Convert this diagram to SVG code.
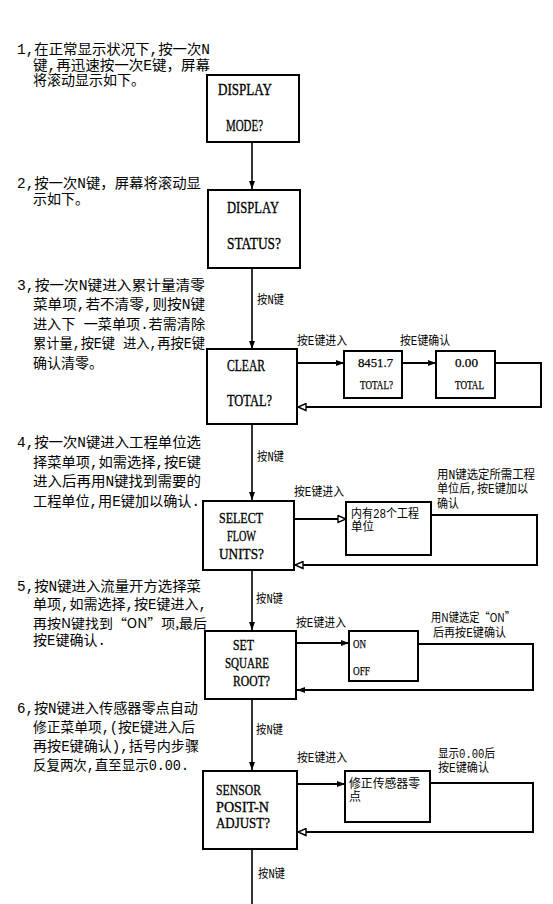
<svg xmlns="http://www.w3.org/2000/svg" width="553" height="904" viewBox="0 0 553 904">
<style>
.bg{fill:#fff}
.box{fill:#fff;stroke:#000;stroke-width:2}
.ln{fill:none;stroke:#000;stroke-width:1.6}
.rt{fill:none;stroke:#000;stroke-width:2}
.t{font-family:"Liberation Mono","Noto Sans CJK SC",monospace;font-size:14px;fill:#000}
.tc{font-family:"Noto Sans CJK SC",sans-serif;font-size:13px;fill:#000}
.lb{font-family:"Liberation Mono","Noto Sans CJK SC",monospace;font-size:12px;fill:#000}
.lc{font-family:"Noto Sans CJK SC",sans-serif;font-size:12px;fill:#000}
.bt{font-family:"Liberation Serif",serif;font-size:17px;fill:#000;stroke:#000;stroke-width:0.35}
.bm{font-family:"Liberation Serif",serif;font-size:15.5px;fill:#000;stroke:#000;stroke-width:0.35}
.st{font-family:"Liberation Serif",serif;font-size:12.5px;fill:#000;stroke:#000;stroke-width:0.25}
</style>
<defs>
<marker id="af" markerUnits="userSpaceOnUse" markerWidth="9" markerHeight="7" refX="8" refY="3.5" orient="auto"><path d="M0,0.5 L8,3.5 L0,6.5 z" fill="#000"/></marker>
<marker id="ah" markerUnits="userSpaceOnUse" markerWidth="11" markerHeight="9" refX="9" refY="4.5" orient="auto"><path d="M1,1 L9,4.5 L1,8 z" fill="#fff" stroke="#000" stroke-width="1.4"/></marker>
</defs>
<rect class="bg" x="0" y="0" width="553" height="904"/>

<g id="notes">
<text class="t" x="17" y="54" textLength="193" lengthAdjust="spacingAndGlyphs">1,在正常显示状况下,按一次N</text>
<text class="t" x="33" y="69.5" textLength="177" lengthAdjust="spacingAndGlyphs">键,再迅速按一次E键，屏幕</text>
<text class="t" x="33" y="85">将滚动显示如下。</text>
<text class="t" x="17" y="187.5" textLength="184" lengthAdjust="spacingAndGlyphs">2,按一次N键，屏幕将滚动显</text>
<text class="t" x="33" y="203.5">示如下。</text>
<text class="t" x="17" y="289.5" textLength="188" lengthAdjust="spacingAndGlyphs">3,按一次N键进入累计量清零</text>
<text class="t" x="33" y="309" textLength="172" lengthAdjust="spacingAndGlyphs">菜单项,若不清零,则按N键</text>
<text class="t" x="33" y="328.5" textLength="172" lengthAdjust="spacingAndGlyphs">进入下 一菜单项.若需清除</text>
<text class="t" x="33" y="348" textLength="172" lengthAdjust="spacingAndGlyphs">累计量,按E键 进入,再按E键</text>
<text class="t" x="33" y="367.5">确认清零。</text>
<text class="t" x="17" y="447" textLength="184" lengthAdjust="spacingAndGlyphs">4,按一次N键进入工程单位选</text>
<text class="t" x="33" y="467" textLength="168" lengthAdjust="spacingAndGlyphs">择菜单项,如需选择,按E键</text>
<text class="t" x="33" y="486" textLength="168" lengthAdjust="spacingAndGlyphs">进入后再用N键找到需要的</text>
<text class="t" x="33" y="506" textLength="167" lengthAdjust="spacingAndGlyphs">工程单位,用E键加以确认.</text>
<text class="t" x="17" y="591" textLength="184" lengthAdjust="spacingAndGlyphs">5,按N键进入流量开方选择菜</text>
<text class="t" x="33" y="609" textLength="174" lengthAdjust="spacingAndGlyphs">单项,如需选择,按E键进入,</text>
<text class="tc" x="33" y="628" textLength="174" lengthAdjust="spacingAndGlyphs">再按N键找到“ON”项,最后</text>
<text class="t" x="33" y="645" >按E键确认.</text>
<text class="t" x="17" y="712.5" textLength="181" lengthAdjust="spacingAndGlyphs">6,按N键进入传感器零点自动</text>
<text class="t" x="33" y="731.5" textLength="162" lengthAdjust="spacingAndGlyphs">修正菜单项,(按E键进入后</text>
<text class="t" x="33" y="750.5" textLength="166" lengthAdjust="spacingAndGlyphs">再按E键确认),括号内步骤</text>
<text class="t" x="33" y="769.5" textLength="156" lengthAdjust="spacingAndGlyphs">反复两次,直至显示0.00.</text>
</g>

<g id="connectors">
<line class="ln" x1="252" y1="142" x2="252" y2="189" marker-end="url(#af)"/>
<line class="ln" x1="252" y1="268" x2="252" y2="349" marker-end="url(#af)"/>
<line class="ln" x1="252" y1="424" x2="252" y2="500" marker-end="url(#af)"/>
<line class="ln" x1="252" y1="570" x2="252" y2="630" marker-end="url(#af)"/>
<line class="ln" x1="252" y1="699" x2="252" y2="770" marker-end="url(#af)"/>
<line class="ln" x1="252" y1="849" x2="252" y2="904"/>
<line class="rt" x1="297" y1="363" x2="344" y2="363" marker-end="url(#af)"/>
<line class="rt" x1="402" y1="363" x2="436" y2="363" marker-end="url(#af)"/>
<polyline class="rt" points="495,363 541,363 541,407 298,407" marker-end="url(#ah)"/>
<line class="rt" x1="294" y1="519" x2="346" y2="519" marker-end="url(#ah)"/>
<polyline class="rt" points="431,515 537,515 537,565 295,565" marker-end="url(#ah)"/>
<line class="rt" x1="296" y1="643" x2="349" y2="643" marker-end="url(#af)"/>
<polyline class="rt" points="418,644 533,644 533,690 297,690" marker-end="url(#af)"/>
<line class="rt" x1="297" y1="784" x2="345" y2="784" marker-end="url(#af)"/>
<polyline class="rt" points="430,783 533,783 533,832 298,832" marker-end="url(#ah)"/>
<text class="lb" x="257" y="304" textLength="27" lengthAdjust="spacingAndGlyphs">按N键</text>
<text class="lb" x="257" y="461" textLength="27" lengthAdjust="spacingAndGlyphs">按N键</text>
<text class="lb" x="256" y="602.5" textLength="27" lengthAdjust="spacingAndGlyphs">按N键</text>
<text class="lb" x="256" y="733.5" textLength="27" lengthAdjust="spacingAndGlyphs">按N键</text>
<text class="lb" x="258" y="877.5" textLength="27" lengthAdjust="spacingAndGlyphs">按N键</text>
<text class="lb" x="297" y="344.5" textLength="50" lengthAdjust="spacingAndGlyphs">按E键进入</text>
<text class="lb" x="400" y="344.5" textLength="50" lengthAdjust="spacingAndGlyphs">按E键确认</text>
<text class="lb" x="294" y="495.5" textLength="50" lengthAdjust="spacingAndGlyphs">按E键进入</text>
<text class="lb" x="437" y="478.5" textLength="98" lengthAdjust="spacingAndGlyphs">用N键选定所需工程</text>
<text class="lb" x="437" y="493" textLength="91" lengthAdjust="spacingAndGlyphs">单位后,按E键加以</text>
<text class="lb" x="437" y="507.5" textLength="22" lengthAdjust="spacingAndGlyphs">确认</text>
<text class="lb" x="296" y="626.5" textLength="50" lengthAdjust="spacingAndGlyphs">按E键进入</text>
<text class="lc" x="431" y="621.5" textLength="84" lengthAdjust="spacingAndGlyphs">用N键选定“ON”</text>
<text class="lb" x="433" y="636.5" textLength="73" lengthAdjust="spacingAndGlyphs">后再按E键确认</text>
<text class="lb" x="297" y="761.5" textLength="50" lengthAdjust="spacingAndGlyphs">按E键进入</text>
<text class="lb" x="438" y="757.5" textLength="57" lengthAdjust="spacingAndGlyphs">显示0.00后</text>
<text class="lb" x="438" y="771.5" textLength="51" lengthAdjust="spacingAndGlyphs">按E键确认</text>
</g>

<g id="display-mode">
<rect class="box" x="207" y="75" width="92" height="67"/>
<text class="bt" x="218" y="95" textLength="54" lengthAdjust="spacingAndGlyphs">DISPLAY</text>
<text class="bt" x="226" y="131" textLength="37" lengthAdjust="spacingAndGlyphs">MODE?</text>
</g>
<g id="display-status">
<rect class="box" x="208" y="190" width="92" height="78"/>
<text class="bt" x="227" y="213" textLength="52" lengthAdjust="spacingAndGlyphs">DISPLAY</text>
<text class="bt" x="227" y="249" textLength="54" lengthAdjust="spacingAndGlyphs">STATUS?</text>
</g>
<g id="clear-total">
<rect class="box" x="207" y="349" width="90" height="75"/>
<text class="bt" x="227" y="371" textLength="38" lengthAdjust="spacingAndGlyphs">CLEAR</text>
<text class="bt" x="227" y="406" textLength="45" lengthAdjust="spacingAndGlyphs">TOTAL?</text>
</g>
<g id="total-value">
<rect class="box" x="344" y="351" width="58" height="47"/>
<text class="st" x="358" y="366.5" textLength="35" lengthAdjust="spacingAndGlyphs">8451.7</text>
<text class="st" x="360" y="388.5" textLength="33" lengthAdjust="spacingAndGlyphs">TOTAL?</text>
</g>
<g id="total-zero">
<rect class="box" x="436" y="351" width="59" height="47"/>
<text class="st" x="455" y="366.5" textLength="23" lengthAdjust="spacingAndGlyphs">0.00</text>
<text class="st" x="455" y="388.5" textLength="29" lengthAdjust="spacingAndGlyphs">TOTAL</text>
</g>
<g id="select-flow-units">
<rect class="box" x="203" y="501" width="91" height="69"/>
<text class="bm" x="219" y="523" textLength="44" lengthAdjust="spacingAndGlyphs">SELECT</text>
<text class="bm" x="227" y="541" textLength="29" lengthAdjust="spacingAndGlyphs">FLOW</text>
<text class="bm" x="219" y="559" textLength="45" lengthAdjust="spacingAndGlyphs">UNITS?</text>
</g>
<g id="units-list">
<rect class="box" x="346" y="502" width="85" height="53"/>
<text class="lb" x="351" y="517.5" textLength="68" lengthAdjust="spacingAndGlyphs">内有28个工程</text>
<text class="lb" x="351" y="530.5" textLength="23" lengthAdjust="spacingAndGlyphs">单位</text>
</g>
<g id="set-square-root">
<rect class="box" x="205" y="631" width="91" height="68"/>
<text class="bm" x="233" y="650" textLength="21" lengthAdjust="spacingAndGlyphs">SET</text>
<text class="bm" x="225" y="668" textLength="44" lengthAdjust="spacingAndGlyphs">SQUARE</text>
<text class="bm" x="233" y="686" textLength="37" lengthAdjust="spacingAndGlyphs">ROOT?</text>
</g>
<g id="on-off">
<rect class="box" x="349" y="631" width="69" height="50"/>
<text class="st" x="353" y="647.5" textLength="13" lengthAdjust="spacingAndGlyphs">ON</text>
<text class="st" x="353" y="674.5" textLength="17" lengthAdjust="spacingAndGlyphs">OFF</text>
</g>
<g id="sensor-adjust">
<rect class="box" x="203" y="771" width="94" height="78"/>
<text class="bm" x="216" y="795" textLength="45" lengthAdjust="spacingAndGlyphs">SENSOR</text>
<text class="bm" x="216" y="811.5" textLength="53" lengthAdjust="spacingAndGlyphs">POSIT-N</text>
<text class="bm" x="216" y="828" textLength="54" lengthAdjust="spacingAndGlyphs">ADJUST?</text>
</g>
<g id="sensor-zero">
<rect class="box" x="345" y="771" width="85" height="51"/>
<text class="lb" x="349" y="787.5" textLength="71" lengthAdjust="spacingAndGlyphs">修正传感器零</text>
<text class="lb" x="349" y="801" textLength="12" lengthAdjust="spacingAndGlyphs">点</text>
</g>
</svg>
